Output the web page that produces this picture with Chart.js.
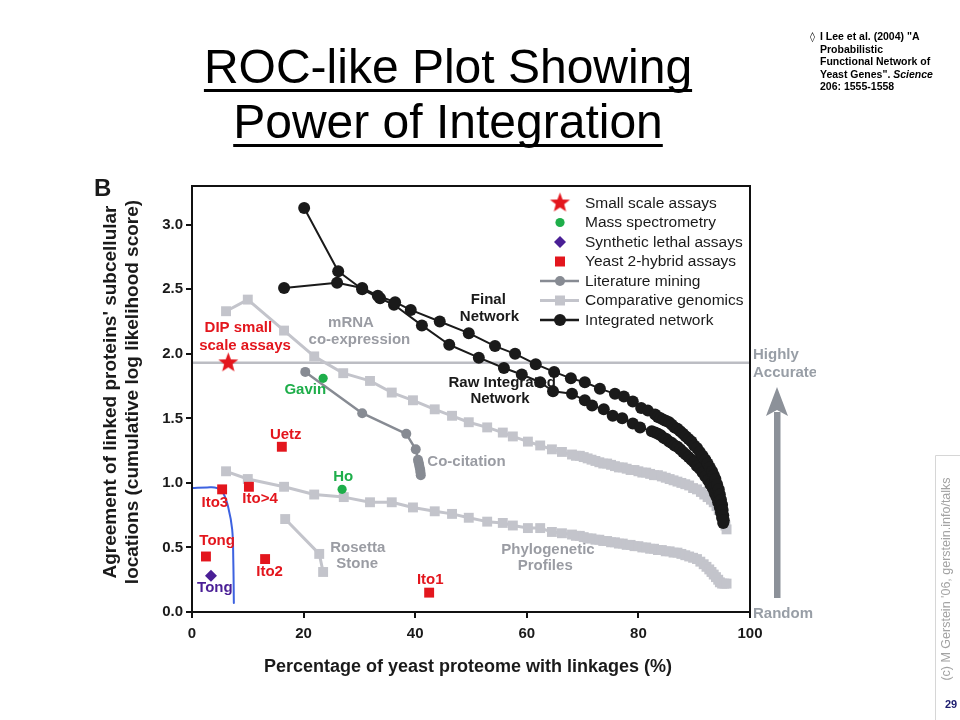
<!DOCTYPE html>
<html><head><meta charset="utf-8">
<script src="https://cdn.jsdelivr.net/npm/chart.js@4"></script>
<style>html,body{margin:0;padding:0;background:#fff}canvas{display:block}</style>
</head><body>
<canvas id="c" width="960" height="720"></canvas>
<script>
// ---------- DATA (x = % of proteome, y = cumulative LLS) ----------
const xTicks = [0, 20, 40, 60, 80, 100];
const yTicks = [0, 0.5, 1.0, 1.5, 2.0, 2.5, 3.0];

const finalNetwork = [
 [16.5,2.51],[26.0,2.55],[30.5,2.51],[33.3,2.45],[36.4,2.40],[39.2,2.34],[44.4,2.25],[49.6,2.16],[54.3,2.06],[57.9,2.00],
 [61.6,1.92],[64.9,1.86],[67.9,1.81],[70.4,1.78],[73.1,1.73],[75.8,1.69],[77.4,1.67],[79.0,1.63],[80.5,1.58],[81.7,1.56],[83.0,1.53],
 [83.5,1.51],[84.0,1.50],[84.5,1.49],[85.0,1.48],[85.5,1.47],[86.0,1.45],[86.5,1.43],[87.0,1.42],[87.5,1.40],[88.0,1.38],
 [88.5,1.36],[89.0,1.34],[89.5,1.32],[90.0,1.29],[90.5,1.27],[91.0,1.24],[91.5,1.21],[92.0,1.18],[92.4,1.15],[92.8,1.12],
 [93.2,1.09],[93.5,1.06],[93.8,1.03],[94.1,0.99],[94.4,0.95],[94.6,0.91],[94.8,0.87],[95.0,0.83],[95.1,0.79],[95.2,0.75],[95.3,0.71]
];
const rawIntegrated = [
 [20.1,3.13],[26.2,2.64],[30.5,2.50],[33.7,2.43],[36.2,2.38],[41.2,2.22],[46.1,2.07],[51.4,1.97],[55.9,1.89],[59.1,1.84],
 [62.4,1.78],[64.7,1.71],[68.1,1.69],[70.4,1.64],[71.7,1.60],[73.8,1.57],[75.4,1.52],[77.1,1.50],[79.0,1.46],[80.3,1.43],[82.4,1.40],
 [83.0,1.39],[83.5,1.38],[84.0,1.37],[84.5,1.35],[85.0,1.34],[85.5,1.32],[86.0,1.31],[86.5,1.29],[87.0,1.28],[87.5,1.26],
 [88.0,1.24],[88.5,1.22],[89.0,1.20],[89.5,1.18],[90.0,1.16],[90.5,1.13],[91.0,1.11],[91.5,1.08],[92.0,1.05],[92.5,1.02],
 [92.9,0.99],[93.3,0.96],[93.7,0.92],[94.0,0.89],[94.3,0.85],[94.6,0.81],[94.8,0.77],[95.0,0.73],[95.2,0.69]
];
const coCitation = [
 [20.3,1.86],[30.5,1.54],[38.4,1.38],[40.1,1.26],[40.5,1.18],[40.6,1.16],[40.7,1.14],[40.8,1.12],[40.9,1.10],[40.95,1.08],[41.0,1.06]
];
const mrnaCoexpression = [
 [6.1,2.33],[10.0,2.42],[16.5,2.18],[21.9,1.98],[27.1,1.85],[31.9,1.79],[35.8,1.70],[39.6,1.64],[43.5,1.57],[46.6,1.52],
 [49.6,1.47],[52.9,1.43],[55.7,1.39],[57.5,1.36],[60.2,1.32],[62.4,1.29],[64.5,1.26],[66.3,1.24],[68.1,1.22],
 [68.8,1.21],[69.5,1.21],[70.2,1.20],[70.9,1.19],[71.6,1.18],[72.3,1.17],[73.0,1.16],[73.7,1.15],[74.4,1.15],[75.1,1.14],
 [75.8,1.13],[76.5,1.12],[77.2,1.12],[77.9,1.11],[78.6,1.10],[79.3,1.10],[80.0,1.09],[80.7,1.08],[81.4,1.08],[82.1,1.07],
 [82.8,1.06],[83.5,1.06],[84.2,1.05],[84.9,1.04],[85.6,1.03],[86.3,1.02],[87.0,1.01],[87.7,1.00],[88.4,0.99],[89.1,0.98],
 [89.8,0.96],[90.5,0.95],[91.2,0.93],[91.8,0.91],[92.4,0.89],[93.0,0.87],[93.5,0.85],[94.0,0.82],[94.4,0.79],[94.8,0.76],
 [95.1,0.73],[95.4,0.70],[95.6,0.67],[95.8,0.64]
];
const phylogeneticProfiles = [
 [6.1,1.09],[10.0,1.03],[16.5,0.97],[21.9,0.91],[27.2,0.89],[31.9,0.85],[35.8,0.85],[39.6,0.81],[43.5,0.78],[46.6,0.76],
 [49.6,0.73],[52.9,0.70],[55.7,0.69],[57.5,0.67],[60.2,0.65],[62.4,0.65],[64.5,0.62],[66.3,0.61],[68.1,0.60],
 [68.8,0.59],[69.5,0.59],[70.2,0.58],[70.9,0.57],[71.6,0.57],[72.3,0.56],[73.0,0.56],[73.7,0.55],[74.4,0.55],[75.1,0.54],
 [75.8,0.54],[76.5,0.53],[77.2,0.53],[77.9,0.52],[78.6,0.52],[79.3,0.51],[80.0,0.51],[80.7,0.50],[81.4,0.50],[82.1,0.49],
 [82.8,0.49],[83.5,0.48],[84.2,0.48],[84.9,0.47],[85.6,0.47],[86.3,0.46],[87.0,0.46],[87.7,0.45],[88.4,0.44],[89.1,0.43],
 [89.8,0.42],[90.5,0.41],[91.1,0.39],[91.7,0.37],[92.2,0.35],[92.7,0.33],[93.1,0.31],[93.5,0.29],[93.9,0.27],[94.3,0.25],
 [94.6,0.23],[95.0,0.22],[95.4,0.22],[95.8,0.22]
];
const rosettaStone = [[16.7,0.72],[22.8,0.45],[23.5,0.31]];
const smallScale = [[6.5,1.93]];
const massSpec = [[23.5,1.81],[26.9,0.95]];              // Gavin, Ho
const syntheticLethal = [[3.4,0.28]];                     // Tong
const yeast2Hybrid = [[16.1,1.28],[5.4,0.95],[10.2,0.97],[2.5,0.43],[13.1,0.41],[42.5,0.15]]; // Uetz, Ito3, Ito>4, Tong, Ito2, Ito1
const blueCurve = [[0,0.96],[2.7,0.965],[4.5,0.96],[5.6,0.92],[6.5,0.81],[7.2,0.64],[7.4,0.40],[7.5,0.07]];
const accuracyLevel = [[0,1.93],[100,1.93]];

// in-plot labels (text, x, y in data units, colour key)
const labelTexts = [
 ['DIP small',8.3,2.20,'red'],['scale assays',9.5,2.06,'red'],
 ['mRNA',28.5,2.24,'gray'],['co-expression',30.0,2.11,'gray'],
 ['Final',53.1,2.42,'black'],['Network',53.3,2.29,'black'],
 ['Raw Integrated',55.6,1.775,'black'],['Network',55.2,1.65,'black'],
 ['Gavin',20.3,1.72,'green'],['Uetz',16.8,1.37,'red'],['Ho',27.1,1.05,'green'],
 ['Co-citation',49.2,1.16,'gray'],
 ['Ito3',4.1,0.845,'red'],['Ito>4',12.2,0.88,'red'],['Tong',4.5,0.55,'red'],['Ito2',13.9,0.31,'red'],
 ['Tong',4.1,0.19,'purple'],['Rosetta',29.7,0.50,'gray'],['Stone',29.6,0.37,'gray'],
 ['Phylogenetic',63.8,0.48,'gray'],['Profiles',63.3,0.36,'gray'],['Ito1',42.7,0.25,'red']
];
const legendItems = ['Small scale assays','Mass spectrometry','Synthetic lethal assays','Yeast 2-hybrid assays','Literature mining','Comparative genomics','Integrated network'];

// ---------- STYLE ----------
const FONT = '"Liberation Sans", Arial, Helvetica, sans-serif';
const C = {red:'#e3161d', green:'#1eae4a', purple:'#4a1f96', black:'#1a1a1a', gray:'#9a9ca3',
           lit:'#878b93', comp:'#c3c4cb', blue:'#3d62e0', level:'#bcbdc3', arrow:'#8c9199'};
const pts = a => a.map(p => ({x:p[0], y:p[1]}));

function makeStar(r, color){
  const s = Math.ceil(r*2+2), c = document.createElement('canvas');
  c.width = c.height = s;
  const g = c.getContext('2d');
  g.fillStyle = color; g.beginPath();
  for (let i=0;i<10;i++){ const rr = i%2 ? r*0.42 : r; const a = -Math.PI/2 + i*Math.PI/5;
    g.lineTo(s/2 + rr*Math.cos(a), s/2 + rr*Math.sin(a)); }
  g.closePath(); g.fill();
  return c;
}
const starImg = makeStar(10.5, C.red);

const lineDs = (data, color, width, style, radius) => ({
  data: pts(data), showLine:true, borderColor:color, borderWidth:width, backgroundColor:color,
  pointBackgroundColor:color, pointBorderColor:color, pointBorderWidth:0, pointStyle:style, pointRadius:radius, tension:0
});
const ptDs = (data, color, style, radius) => ({
  data: pts(data), showLine:false, backgroundColor:color, borderColor:color, pointBackgroundColor:color,
  pointBorderColor:color, pointBorderWidth:0, pointStyle:style, pointRadius:radius
});

const datasets = [
  ptDs(smallScale, C.red, starImg, 10),
  ptDs(yeast2Hybrid, C.red, 'rect', 7),
  ptDs(massSpec, C.green, 'circle', 4.6),
  ptDs(syntheticLethal, C.purple, 'rectRot', 6),
  lineDs(finalNetwork, C.black, 2, 'circle', 6),
  lineDs(rawIntegrated, C.black, 2, 'circle', 6),
  lineDs(coCitation, C.lit, 2.5, 'circle', 5),
  lineDs(mrnaCoexpression, C.comp, 3, 'rect', 7),
  lineDs(phylogeneticProfiles, C.comp, 3, 'rect', 7),
  lineDs(rosettaStone, C.comp, 3, 'rect', 7),
  Object.assign(lineDs(blueCurve, C.blue, 2, 'circle', 0), {tension:0.4}),
  lineDs(accuracyLevel, C.level, 2.5, 'circle', 0)
];

const decor = {
  id:'decor',
  afterDatasetsDraw(chart){
    const {ctx, chartArea:a, scales:{x, y}} = chart;
    ctx.save();
    // frame
    ctx.strokeStyle = '#111'; ctx.lineWidth = 2;
    ctx.strokeRect(a.left, a.top, a.right-a.left, a.bottom-a.top);
    // in-plot labels
    ctx.font = 'bold 15px ' + FONT; ctx.textAlign = 'center'; ctx.textBaseline = 'middle';
    labelTexts.forEach(l => { ctx.fillStyle = C[l[3]]; ctx.fillText(l[0], x.getPixelForValue(l[1]), y.getPixelForValue(l[2])); });
    // legend
    const lx = 560, tx = 585, ly0 = 203, dy = 19.5;
    ctx.font = '15.5px ' + FONT; ctx.textAlign = 'left';
    legendItems.forEach((t,i) => {
      const yy = ly0 + i*dy;
      if (i === 0) ctx.drawImage(starImg, lx - starImg.width/2, yy - starImg.height/2);
      if (i === 1) { ctx.fillStyle = C.green; ctx.beginPath(); ctx.arc(lx, yy, 4.6, 0, 2*Math.PI); ctx.fill(); }
      if (i === 2) { ctx.fillStyle = C.purple; ctx.beginPath(); ctx.moveTo(lx, yy-6); ctx.lineTo(lx+6, yy); ctx.lineTo(lx, yy+6); ctx.lineTo(lx-6, yy); ctx.closePath(); ctx.fill(); }
      if (i === 3) { ctx.fillStyle = C.red; ctx.fillRect(lx-5, yy-5, 10, 10); }
      if (i >= 4) {
        const col = [C.lit, C.comp, C.black][i-4];
        ctx.strokeStyle = col; ctx.lineWidth = i===5 ? 3 : 2.5; ctx.beginPath(); ctx.moveTo(540, yy); ctx.lineTo(579, yy); ctx.stroke();
        ctx.fillStyle = col;
        if (i === 5) ctx.fillRect(lx-5, yy-5, 10, 10);
        else { ctx.beginPath(); ctx.arc(lx, yy, i===4 ? 5 : 6, 0, 2*Math.PI); ctx.fill(); }
      }
      ctx.fillStyle = '#1a1a1a'; ctx.fillText(t, tx, yy + 0.5);
    });
    ctx.restore();
  },
  afterDraw(chart){
    const {ctx} = chart;
    ctx.save();
    // right-side annotations
    ctx.save(); ctx.beginPath(); ctx.rect(750, 300, 66, 340); ctx.clip();
    ctx.fillStyle = '#989ea6'; ctx.font = 'bold 15px ' + FONT; ctx.textAlign = 'left'; ctx.textBaseline = 'middle';
    ctx.fillText('Highly', 753, 355); ctx.fillText('Accurate', 753, 373); ctx.fillText('Random', 753, 614);
    ctx.restore();
    ctx.fillStyle = C.arrow;
    ctx.fillRect(774, 412, 6.5, 186);
    ctx.beginPath(); ctx.moveTo(777, 387); ctx.lineTo(788, 416); ctx.lineTo(777, 410); ctx.lineTo(766, 416); ctx.closePath(); ctx.fill();
    // axis titles
    ctx.fillStyle = '#1a1a1a'; ctx.font = 'bold 18px ' + FONT; ctx.textAlign = 'center'; ctx.textBaseline = 'middle';
    ctx.fillText('Percentage of yeast proteome with linkages (%)', 468, 667);
    ctx.save(); ctx.translate(111, 392); ctx.rotate(-Math.PI/2);
    ctx.font = 'bold 19px ' + FONT;
    ctx.fillText("Agreement of linked proteins' subcellular", 0, 0);
    ctx.fillText('locations (cumulative log likelihood score)', 0, 21.5);
    ctx.restore();
    // panel letter
    ctx.font = 'bold 24px ' + FONT; ctx.textAlign = 'left'; ctx.textBaseline = 'alphabetic';
    ctx.fillText('B', 94, 196);
    // slide title
    ctx.fillStyle = '#000'; ctx.font = '48px ' + FONT; ctx.textAlign = 'center';
    [['ROC-like Plot Showing', 83], ['Power of Integration', 138]].forEach(([t, b]) => {
      ctx.fillText(t, 448, b); const w = ctx.measureText(t).width; ctx.fillRect(448 - w/2, b + 6, w, 3);
    });
    // citation
    ctx.textAlign = 'left'; ctx.font = '10px "DejaVu Sans", sans-serif'; ctx.fillText('\u25CA', 810, 40);
    ctx.font = 'bold 10.5px ' + FONT;
    ctx.fillText('I Lee et al. (2004) "A', 820, 40);
    ctx.fillText('Probabilistic', 820, 52.5);
    ctx.fillText('Functional Network of', 820, 65);
    const l4 = 'Yeast Genes". '; ctx.fillText(l4, 820, 77.5);
    const w4 = ctx.measureText(l4).width; ctx.font = 'italic bold 10.5px ' + FONT; ctx.fillText('Science', 820 + w4, 77.5);
    ctx.font = 'bold 10.5px ' + FONT; ctx.fillText('206: 1555-1558', 820, 90);
    // side footer
    ctx.strokeStyle = '#d6d6d6'; ctx.lineWidth = 1;
    ctx.beginPath(); ctx.moveTo(935.5, 720); ctx.lineTo(935.5, 455.5); ctx.lineTo(960, 455.5); ctx.stroke();
    ctx.save(); ctx.translate(947, 579); ctx.rotate(-Math.PI/2);
    ctx.fillStyle = '#a3a3a3'; ctx.font = '12.5px ' + FONT; ctx.textAlign = 'center'; ctx.textBaseline = 'middle';
    ctx.fillText("(c) M Gerstein '06, gerstein.info/talks", 0, 0);
    ctx.restore();
    ctx.fillStyle = '#1b1b6e'; ctx.font = 'bold 11px ' + FONT; ctx.textAlign = 'center'; ctx.textBaseline = 'middle';
    ctx.fillText('29', 951, 705);
    ctx.restore();
  }
};

new Chart(document.getElementById('c'), {
  type: 'scatter',
  data: { datasets },
  options: {
    responsive:false, animation:false, devicePixelRatio:1,
    layout:{ padding:{ left:92, right:210, top:186, bottom:28 } },
    plugins:{ legend:{display:false}, tooltip:{enabled:false} },
    elements:{ line:{ borderJoinStyle:'round', borderCapStyle:'round' } },
    scales:{
      x:{ type:'linear', min:0, max:100,
        afterBuildTicks: s => { s.ticks = xTicks.map(v => ({value:v})); },
        afterFit: s => { s.height = 80; },
        grid:{ drawOnChartArea:false, drawTicks:true, tickLength:6, color:'#111', lineWidth:2 },
        border:{ display:true, color:'#111', width:2 },
        ticks:{ color:'#1a1a1a', font:{ family:FONT, size:15, weight:'bold' }, padding:7, maxRotation:0, autoSkip:false,
                callback: v => String(v) } },
      y:{ type:'linear', min:0, max:3.3,
        afterBuildTicks: s => { s.ticks = yTicks.map(v => ({value:v})); },
        afterFit: s => { s.width = 100; },
        grid:{ drawOnChartArea:false, drawTicks:true, tickLength:6, color:'#111', lineWidth:2 },
        border:{ display:true, color:'#111', width:2 },
        ticks:{ color:'#1a1a1a', font:{ family:FONT, size:15, weight:'bold' }, padding:3, autoSkip:false,
                callback: v => Number(v).toFixed(1) } }
    }
  },
  plugins:[decor]
});
</script>
</body></html>
